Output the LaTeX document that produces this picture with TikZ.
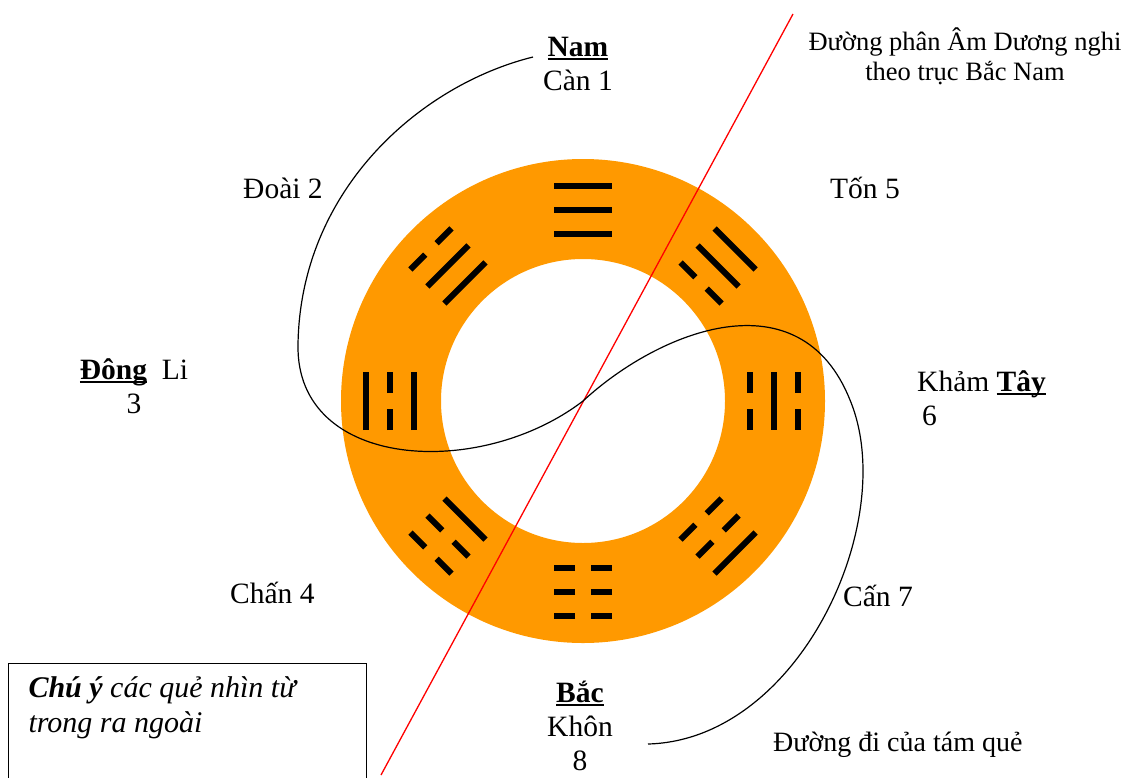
\documentclass[tikz,border=0pt]{standalone}
\usepackage{fontspec}
\setmainfont{Liberation Serif}
\usetikzlibrary{calc}
\definecolor{ringor}{RGB}{255,153,0}
\newcommand\ulx[1]{\setbox0\hbox{#1}\rlap{\rule[-4pt]{\wd0}{2.5pt}}\box0}
\newcommand\tgl[2]{\ifnum#2=1 \draw[tgline] (-29,#1) -- (29,#1);\else\draw[tgline] (-29,#1) -- (-8,#1) (8,#1) -- (29,#1);\fi}
\tikzset{
  tgline/.style={line width=6pt, line cap=butt, black},
  pics/tri/.style n args={3}{code={\tgl{-24}{#1}\tgl{0}{#2}\tgl{24}{#3}}},
  lbl/.style={font=\fontsize{29.5}{34}\selectfont, inner sep=0pt, align=center},
  small/.style={font=\fontsize{26.5}{30}\selectfont, inner sep=0pt, align=center},
  redline/.style={red, line width=1.3pt},
  pathline/.style={black, line width=1.2pt},
  notebox/.style={draw, line width=1pt, anchor=north west, inner xsep=20pt, inner ysep=13pt,
     font=\fontsize{30}{35}\selectfont\itshape}
}
\begin{document}
\begin{tikzpicture}[x=1pt,y=1pt]
\useasboundingbox (0,0) rectangle (1125,-777);
\coordinate (c) at (583,-401);
% ring
\fill[ringor, even odd rule] (c) circle[radius=242] (c) circle[radius=142];
% trigrams (inner, middle, outer)
\pic[rotate=0]    at ($(c)+(90:191)$)   {tri={1}{1}{1}};  % Can
\pic[rotate=45]   at ($(c)+(135:191)$)  {tri={1}{1}{0}};  % Doai
\pic[rotate=90]   at ($(c)+(180:193)$)  {tri={1}{0}{1}};  % Li
\pic[rotate=135]  at ($(c)+(225:191)$)  {tri={1}{0}{0}};  % Chan
\pic[rotate=-45]  at ($(c)+(45:191)$)   {tri={0}{1}{1}};  % Ton
\pic[rotate=-90]  at ($(c)+(0:191)$)    {tri={0}{1}{0}};  % Kham
\pic[rotate=-135] at ($(c)+(-45:191)$)  {tri={0}{0}{1}};  % Can 7
\pic[rotate=180]  at ($(c)+(-90:191)$)  {tri={0}{0}{0}};  % Khon
% red dividing line
\coordinate (rtop) at (793,-14);
\coordinate (rbot) at (381,-775);
\draw[redline] (rtop) -- (rbot);
% path of the eight trigrams
\coordinate (cs) at (533,-57);
\coordinate (ce) at (648,-744);
\draw[pathline] (cs) .. controls (420,-85) and (300,-190) .. (298,-345)
  .. controls (296,-470) and (480,-480) .. (c)
  .. controls (660,-330) and (800,-275) .. (850,-400)
  .. controls (900,-520) and (800,-740) .. (ce);
% labels
\node[lbl, anchor=base] (nam) at (578,-90) {\ulx{\textbf{Nam}}\\Càn 1};
\node[lbl, anchor=base west] (doai) at (243,-198) {Đoài 2};
\node[lbl, anchor=base west] (ton) at (830,-198) {Tốn 5};
\node[lbl, anchor=base] (dong) at (134,-413) {\ulx{\textbf{Đông}}\ \ Li\\3};
\node[lbl, anchor=base west, align=left] (kham) at (917,-425) {Khảm \ulx{\textbf{Tây}}\\\,6};
\node[lbl, anchor=base west] (chan) at (230,-603) {Chấn 4};
\node[lbl, anchor=base west] (can7) at (843,-606) {Cấn 7};
\node[lbl, anchor=base] (bac) at (580,-770) {\ulx{\textbf{Bắc}}\\Khôn\\8};
\node[small, anchor=base] (amduong) at (965,-80) {Đường phân Âm Dương nghi\\theo trục Bắc Nam};
\node[small, font=\fontsize{28}{30}\selectfont, anchor=base west] (duongdi) at (773,-751) {Đường đi của tám quẻ};
\node[notebox] (note) at (8,-663) {\parbox[t][125pt][t]{318pt}{\raggedright\textbf{Chú ý} các quẻ nhìn từ\\trong ra ngoài}};
\end{tikzpicture}
\end{document}
